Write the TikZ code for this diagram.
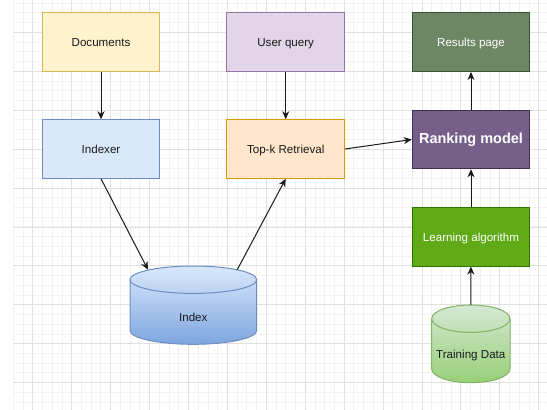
\documentclass[tikz,border=0pt]{standalone}
\usepackage{fontspec}
\setmainfont{Liberation Sans}
\usetikzlibrary{arrows.meta,calc}

% fills and strokes
\definecolor{docfill}{HTML}{FFF2CC}\definecolor{docline}{HTML}{D6B656}
\definecolor{bluefill}{HTML}{DAE8FC}\definecolor{blueline}{HTML}{6C8EBF}
\definecolor{bluedeep}{HTML}{7EA6E0}
\definecolor{queryfill}{HTML}{E1D5E7}\definecolor{queryline}{HTML}{9673A6}
\definecolor{orangefill}{HTML}{FFE6CC}\definecolor{orangeline}{HTML}{D79B00}
\definecolor{resfill}{HTML}{6D8764}\definecolor{resline}{HTML}{3A5431}
\definecolor{rankfill}{HTML}{76608A}\definecolor{rankline}{HTML}{432D57}
\definecolor{learnfill}{HTML}{60A917}\definecolor{learnline}{HTML}{2D7600}
\definecolor{greenfill}{HTML}{D5E8D4}\definecolor{greendeep}{HTML}{97D077}
\definecolor{greenline}{HTML}{82B366}
\definecolor{textdark}{HTML}{1A1A1A}
\definecolor{edgecol}{HTML}{1A1A1A}

% data stores drawn as cylinders: x0, x1, top, bottom, end radius, fills, stroke
\newcommand{\drum}[8]{%
  \path[top color=#6,bottom color=#7]
    (#1,#3+#5) -- (#1,#4-#5)
    arc[start angle=180,end angle=0,x radius={(#2-#1)/2},y radius=#5]
    -- (#2,#3+#5)
    arc[start angle=0,end angle=-180,x radius={(#2-#1)/2},y radius=#5] -- cycle;
  \draw[#8,line width=1pt]
    (#1,#3+#5) -- (#1,#4-#5)
    arc[start angle=180,end angle=0,x radius={(#2-#1)/2},y radius=#5]
    -- (#2,#3+#5)
    arc[start angle=0,end angle=-180,x radius={(#2-#1)/2},y radius=#5] -- cycle;
  \draw[#8,line width=1pt] (#1,#3+#5)
    arc[start angle=180,end angle=0,x radius={(#2-#1)/2},y radius=#5];
}

\begin{document}
\begin{tikzpicture}[x=1pt,y=-1pt,
  minorgrid/.style={draw=gray!10,line width=0.8pt},
  majorgrid/.style={draw=gray!24,line width=0.8pt},
  label text/.style={font=\fontsize{11.6}{14}\selectfont,text=textdark,
    text height=11pt,text depth=1.5pt},
  box/.style={draw,line width=1pt,minimum width=117.5,minimum height=58.5,
    inner sep=0pt,label text},
  holder/.style={inner sep=0pt,label text},
  edge/.style={draw=edgecol,line width=1pt,
    -{Stealth[length=8pt,width=7pt,inset=2.5pt]}}]

\useasboundingbox (0,0) rectangle (547,410);
\fill[white] (0,0) rectangle (547,410);

% background grid
\foreach \i in {0,...,55}
  \draw[minorgrid] ({13.3+\i*9.73},0) -- ({13.3+\i*9.73},410);
\foreach \j in {0,...,42}
  \draw[minorgrid] (13.3,{3.1+\j*9.73}) -- (547,{3.1+\j*9.73});
\foreach \i in {0,...,13}
  \draw[majorgrid] ({32.76+\i*38.92},0) -- ({32.76+\i*38.92},410);
\foreach \j in {0,...,10}
  \draw[majorgrid] (13.3,{32.3+\j*38.92}) -- (547,{32.3+\j*38.92});

% process boxes
\node[box,fill=docfill,draw=docline]       (docs)    at (101,42.2)   {Documents};
\node[box,fill=bluefill,draw=blueline]     (indexer) at (101,149)    {Indexer};
\node[box,fill=queryfill,draw=queryline]   (query)   at (285.7,42.2) {User query};
\node[box,fill=orangefill,draw=orangeline] (topk)    at (285.7,149)  {Top-k Retrieval};
\node[box,fill=resfill,draw=resline,text=white]  (results) at (471,42.2) {Results page};
\node[box,fill=rankfill,draw=rankline,text=white,
      font=\fontsize{14.5}{17}\bfseries,
      text height=10pt,text depth=2pt]     (ranking) at (471,139.5)  {Ranking model};
\node[box,fill=learnfill,draw=learnline,text=white] (learning) at (471,236.8) {Learning algorithm};

% the two stores
\drum{130}{256.7}{266}{344.3}{13.7}{bluefill}{bluedeep}{blueline}
\drum{431.7}{510}{305}{382.7}{13.7}{greenfill}{greendeep}{greenline}
\node[holder,minimum width=126.7,minimum height=78.3] (index) at (193.3,305.2) {};
\node[holder] (indexlabel) at (193.3,316.6) {Index};
\node[holder,minimum width=78.3,minimum height=77.7] (training) at (470.8,343.8) {};
\node[holder] (traininglabel) at (470.8,354.2) {Training Data};

% connectors
\draw[edge] (docs) -- (indexer);
\draw[edge] (query) -- (topk);
\draw[edge] (indexer.south) -- ($(index.north)+(-45.3,3.9)$);
\draw[edge] ($(index.north)+(44,3.8)$) -- (topk.south);
\draw[edge] (topk.east) -- (ranking.west);
\draw[edge] (ranking) -- (results);
\draw[edge] (learning) -- (ranking);
\draw[edge] (training.north) -- (learning);
\end{tikzpicture}
\end{document}
